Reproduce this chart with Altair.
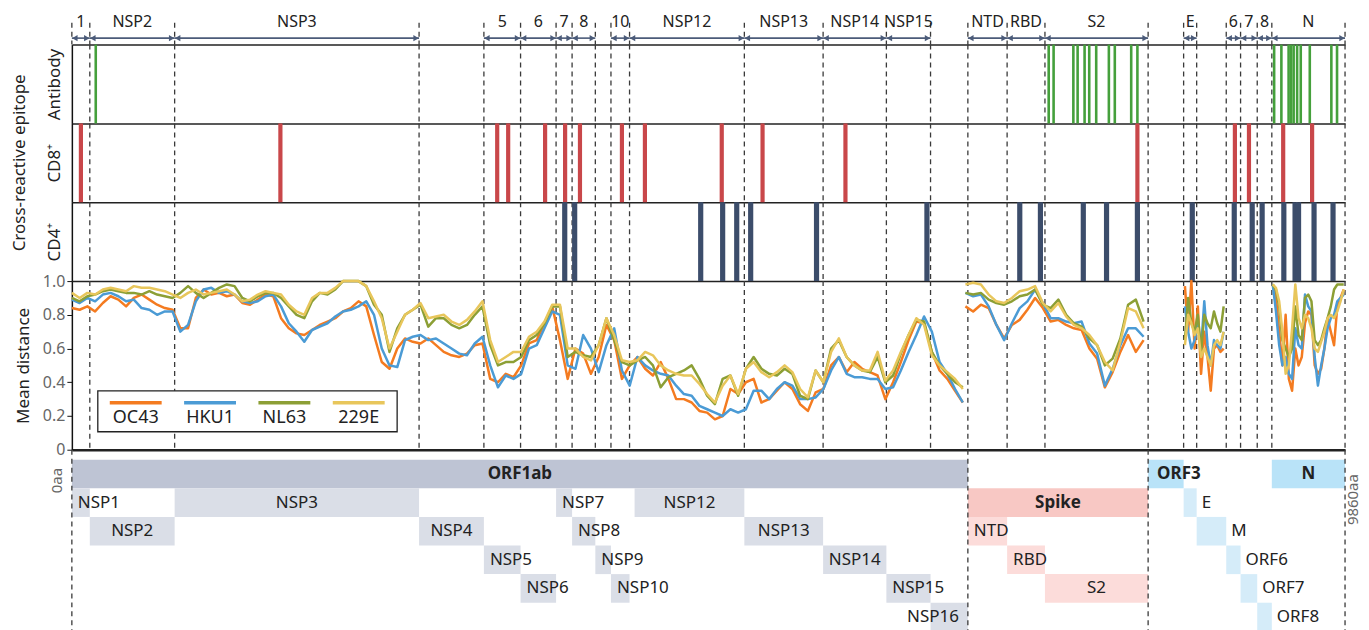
import altair as alt
import pandas as pd

# ---------------- series ----------------
SERIES = ["OC43", "HKU1", "NL63", "229E"]
SERIES_COLORS = ["#f47b20", "#4b9bd5", "#8c9f35", "#e8c65b"]

# sliding-window positions (aa): segment start and window step
ORF1AB_START, ORF1AB_STEP = 0, 60
SPIKE_START, SPIKE_STEP = 6920, 60
EM_START, EM_STEP = 8620, 25
N_START, N_STEP = 9300, 25

oc43_orf1ab = [0.84, 0.83, 0.85, 0.82, 0.87, 0.91, 0.89, 0.85, 0.90, 0.92,
               0.89, 0.86, 0.84, 0.83, 0.72, 0.72, 0.90, 0.95, 0.92, 0.93,
               0.91, 0.92, 0.87, 0.86, 0.89, 0.92, 0.91, 0.78, 0.72, 0.69,
               0.68, 0.71, 0.74, 0.76, 0.78, 0.82, 0.84, 0.88, 0.85, 0.68,
               0.52, 0.48, 0.60, 0.66, 0.64, 0.63, 0.66, 0.62, 0.58, 0.56,
               0.55, 0.57, 0.62, 0.63, 0.42, 0.40, 0.45, 0.43, 0.50, 0.63,
               0.65, 0.75, 0.85, 0.65, 0.42, 0.60, 0.57, 0.45, 0.55, 0.74,
               0.65, 0.42, 0.50, 0.55, 0.48, 0.44, 0.52, 0.42, 0.30, 0.30,
               0.28, 0.23, 0.22, 0.18, 0.20, 0.36, 0.33, 0.40, 0.42, 0.28,
               0.30, 0.35, 0.40, 0.36, 0.27, 0.23, 0.34, 0.36, 0.50, 0.55,
               0.46, 0.52, 0.48, 0.46, 0.44, 0.30, 0.40, 0.52, 0.65, 0.76,
               0.75, 0.58, 0.47, 0.42, 0.35, 0.28]
hku1_orf1ab = [0.89, 0.87, 0.90, 0.88, 0.92, 0.93, 0.91, 0.88, 0.89, 0.84,
               0.83, 0.80, 0.82, 0.82, 0.70, 0.74, 0.88, 0.95, 0.96, 0.93,
               0.94, 0.92, 0.88, 0.87, 0.88, 0.91, 0.92, 0.85, 0.75, 0.70,
               0.64, 0.71, 0.73, 0.75, 0.79, 0.82, 0.83, 0.85, 0.88, 0.80,
               0.60, 0.50, 0.49, 0.65, 0.67, 0.68, 0.65, 0.66, 0.63, 0.60,
               0.57, 0.56, 0.63, 0.67, 0.50, 0.37, 0.44, 0.42, 0.45, 0.60,
               0.62, 0.72, 0.82, 0.80, 0.50, 0.48, 0.68, 0.60, 0.46, 0.62,
               0.72, 0.47, 0.38, 0.55, 0.50, 0.47, 0.45, 0.44, 0.38, 0.33,
               0.32, 0.26, 0.24, 0.22, 0.20, 0.24, 0.22, 0.24, 0.35, 0.35,
               0.30, 0.36, 0.40, 0.38, 0.30, 0.30, 0.31, 0.36, 0.47, 0.55,
               0.45, 0.43, 0.43, 0.42, 0.42, 0.36, 0.37, 0.47, 0.58, 0.68,
               0.79, 0.70, 0.52, 0.45, 0.36, 0.28]
nl63_orf1ab = [0.90, 0.88, 0.91, 0.92, 0.94, 0.95, 0.94, 0.93, 0.93, 0.92,
               0.94, 0.92, 0.91, 0.90, 0.93, 0.97, 0.93, 0.90, 0.93, 0.96,
               0.98, 0.97, 0.90, 0.88, 0.91, 0.93, 0.93, 0.90, 0.85, 0.80,
               0.78, 0.88, 0.93, 0.92, 0.95, 1.00, 1.00, 1.00, 0.97, 0.86,
               0.80, 0.58, 0.72, 0.80, 0.83, 0.86, 0.73, 0.78, 0.78, 0.74,
               0.72, 0.74, 0.80, 0.85, 0.62, 0.50, 0.52, 0.52, 0.55, 0.65,
               0.68, 0.75, 0.85, 0.85, 0.55, 0.58, 0.56, 0.55, 0.62, 0.78,
               0.65, 0.52, 0.50, 0.53, 0.55, 0.50, 0.37, 0.43, 0.45, 0.47,
               0.50, 0.42, 0.32, 0.27, 0.42, 0.44, 0.32, 0.48, 0.55, 0.48,
               0.45, 0.44, 0.48, 0.45, 0.32, 0.30, 0.47, 0.40, 0.60, 0.65,
               0.55, 0.50, 0.47, 0.46, 0.55, 0.40, 0.44, 0.57, 0.68, 0.77,
               0.76, 0.58, 0.50, 0.45, 0.40, 0.37]
e229_orf1ab = [0.93, 0.90, 0.93, 0.92, 0.95, 0.96, 0.95, 0.94, 0.97, 0.96,
               0.96, 0.95, 0.94, 0.92, 0.90, 0.93, 0.95, 0.92, 0.93, 0.94,
               0.95, 0.92, 0.88, 0.89, 0.92, 0.94, 0.93, 0.92, 0.86, 0.82,
               0.80, 0.90, 0.93, 0.93, 0.96, 1.00, 1.00, 1.00, 0.97, 0.88,
               0.78, 0.60, 0.70, 0.80, 0.83, 0.87, 0.78, 0.79, 0.80, 0.76,
               0.74, 0.77, 0.82, 0.88, 0.65, 0.52, 0.55, 0.58, 0.58, 0.67,
               0.70, 0.76, 0.86, 0.86, 0.60, 0.60, 0.55, 0.53, 0.62, 0.78,
               0.68, 0.53, 0.52, 0.53, 0.58, 0.56, 0.50, 0.47, 0.45, 0.44,
               0.44, 0.39, 0.33, 0.28, 0.38, 0.44, 0.33, 0.48, 0.52, 0.46,
               0.43, 0.46, 0.50, 0.46, 0.36, 0.31, 0.47, 0.40, 0.58, 0.66,
               0.55, 0.50, 0.47, 0.47, 0.58, 0.41, 0.47, 0.58, 0.68, 0.78,
               0.74, 0.56, 0.50, 0.46, 0.42, 0.36]

oc43_spike = [0.85, 0.82, 0.86, 0.84, 0.74, 0.66, 0.74, 0.77, 0.83, 0.90, 0.84, 0.76,
              0.77, 0.74, 0.72, 0.71, 0.60, 0.54, 0.37, 0.46, 0.58, 0.68, 0.58, 0.65]
hku1_spike = [0.93, 0.91, 0.92, 0.85, 0.74, 0.65, 0.75, 0.84, 0.88, 0.95, 0.87, 0.78,
              0.78, 0.76, 0.75, 0.76, 0.63, 0.57, 0.38, 0.48, 0.62, 0.72, 0.72, 0.67]
nl63_spike = [0.93, 0.92, 0.93, 0.89, 0.87, 0.86, 0.88, 0.91, 0.92, 0.95, 0.86, 0.84,
              0.89, 0.80, 0.75, 0.73, 0.66, 0.62, 0.50, 0.54, 0.66, 0.86, 0.89, 0.76]
e229_spike = [0.98, 0.99, 0.98, 0.92, 0.88, 0.87, 0.90, 0.94, 0.95, 0.97, 0.87, 0.82,
              0.87, 0.79, 0.74, 0.72, 0.68, 0.62, 0.52, 0.47, 0.64, 0.84, 0.82, 0.72]

oc43_em = [0.97, 0.70, 1.00, 0.60, 0.85, 0.45, 0.70, 0.55, 0.35, 0.60, 0.62, 0.58, 0.60]
hku1_em = [0.85, 0.70, 0.60, 0.65, 0.75, 0.60, 0.88, 0.62, 0.50, 0.65, 0.62, 0.60, 0.70]
nl63_em = [0.65, 0.90, 0.75, 0.70, 0.80, 0.58, 0.80, 0.75, 0.72, 0.82, 0.75, 0.70, 0.85]
e229_em = [0.62, 0.80, 0.75, 0.68, 0.72, 0.55, 0.60, 0.55, 0.50, 0.62, 0.65, 0.62, 0.70]

oc43_n = [0.98, 0.90, 0.70, 0.50, 0.80, 0.42, 0.35, 0.60, 0.50, 0.55, 0.75, 0.82,
          0.80, 0.50, 0.45, 0.48, 0.60, 0.78, 0.70, 0.62, 0.85, 0.90, 0.95]
hku1_n = [0.98, 0.82, 0.62, 0.50, 0.55, 0.45, 0.42, 0.72, 0.62, 0.60, 0.92, 0.85,
          0.82, 0.55, 0.38, 0.50, 0.60, 0.72, 0.78, 0.80, 0.88, 0.90, 0.92]
nl63_n = [0.98, 0.95, 0.85, 0.65, 0.60, 0.55, 0.60, 0.85, 0.68, 0.65, 0.90, 0.92,
          0.88, 0.65, 0.62, 0.65, 0.72, 0.78, 0.85, 0.95, 0.98, 0.98, 0.98]
e229_n = [0.98, 0.96, 0.88, 0.70, 0.45, 0.50, 0.72, 0.98, 0.78, 0.72, 0.80, 0.78,
          0.72, 0.60, 0.58, 0.64, 0.70, 0.78, 0.80, 0.78, 0.82, 0.88, 0.95]

# ---------------- epitope positions (aa) ----------------
antibody_pos = [185, 7565, 7603, 7756, 7789, 7843, 7879, 7933, 8031, 8077, 8204, 8252,
                9311, 9367, 9423, 9442, 9462, 9489, 9517, 9587, 9754, 9798]
cd8_pos = [70, 1615, 3294, 3379, 3665, 3820, 3935, 4260, 4438, 5033, 5349, 5991,
           8252, 9007, 9116, 9381, 9605]
cd4_pos = [3817, 3894, 4870, 5040, 5149, 5257, 5767, 6622, 7341, 7501, 7833, 8013,
           8252, 8677, 9002, 9141, 9218, 9386, 9473, 9500, 9620, 9767]

# ---------------- protein boundaries (aa) ----------------
boundaries = [0, 139, 796, 2689, 3191, 3475, 3750, 3874, 4054, 4175, 4319, 5208, 5818,
              6308, 6650, 6939, 7243, 7536, 8335, 8610, 8711, 8940, 9051, 9180, 9293, 9860]

span_labels = ["1", "NSP2", "NSP3", "5", "6", "7", "8", "10", "NSP12", "NSP13", "NSP14",
               "NSP15", "NTD", "RBD", "S2", "E", "6", "7", "8", "N"]
span_start = [0, 139, 796, 3191, 3475, 3750, 3874, 4175, 4319, 5208, 5818, 6308,
              6939, 7243, 7536, 8610, 8940, 9051, 9180, 9293]
span_end = [139, 796, 2689, 3475, 3750, 3874, 4054, 4319, 5208, 5818, 6308, 6650,
            7243, 7536, 8335, 8711, 9051, 9180, 9293, 9860]

gene_names = ["ORF1ab", "NSP1", "NSP2", "NSP3", "NSP4", "NSP5", "NSP6", "NSP7", "NSP8",
              "NSP9", "NSP10", "NSP12", "NSP13", "NSP14", "NSP15", "NSP16", "Spike",
              "NTD", "RBD", "S2", "ORF3", "E", "M", "ORF6", "ORF7", "ORF8", "N"]
gene_start = [0, 0, 139, 796, 2689, 3191, 3475, 3750, 3874, 4054, 4175, 4358, 5208,
              5818, 6308, 6650, 6939, 6939, 7243, 7536, 8335, 8610, 8711, 8940, 9051,
              9180, 9293]
gene_end = [6939, 139, 796, 2689, 3191, 3475, 3750, 3874, 4054, 4175, 4319, 5208, 5818,
            6308, 6650, 6939, 8335, 7243, 7536, 8335, 8610, 8711, 8940, 9051, 9180,
            9293, 9860]
gene_row = [1, 2, 3, 2, 3, 4, 5, 2, 3, 4, 5, 2, 3, 4, 5, 6, 2, 3, 4, 5, 1, 2, 3, 4, 5, 6, 1]
gene_group = ["orf1ab"] + ["nsp"] * 15 + ["spike"] + ["spike_sub"] * 3 + ["acc"] + \
             ["acc_sub"] * 5 + ["acc"]
gene_label_mode = ["center", "start", "center", "center", "center", "start", "start",
                   "start", "start", "start", "start", "center", "center", "center",
                   "start", "end", "center", "start", "start", "center", "start",
                   "after", "after", "after", "after", "after", "center"]
gene_bold = [1, 0, 0, 0, 0, 0, 0, 0, 0, 0, 0, 0, 0, 0, 0, 0, 1, 0, 0, 0, 1, 0, 0, 0, 0, 0, 1]
GROUPS = ["orf1ab", "nsp", "spike", "spike_sub", "acc", "acc_sub"]
GROUP_COLORS = ["#bec4d4", "#dadee7", "#f8c8c4", "#fcdcda", "#b9e3f8", "#d5ecf9"]

# ---------------- build tables ----------------
segments = [
    ("ORF1ab", ORF1AB_START, ORF1AB_STEP, [oc43_orf1ab, hku1_orf1ab, nl63_orf1ab, e229_orf1ab]),
    ("Spike", SPIKE_START, SPIKE_STEP, [oc43_spike, hku1_spike, nl63_spike, e229_spike]),
    ("EM", EM_START, EM_STEP, [oc43_em, hku1_em, nl63_em, e229_em]),
    ("N", N_START, N_STEP, [oc43_n, hku1_n, nl63_n, e229_n]),
]
rows = []
for seg, start, step, lists in segments:
    for s, vals in zip(SERIES, lists):
        for i, v in enumerate(vals):
            rows.append({"pos": start + i * step, "dist": v, "series": s, "seg": seg})
line_df = pd.DataFrame(rows)

bnd_all = pd.DataFrame({"b": boundaries})
bnd_inner = pd.DataFrame({"b": boundaries[1:]})
span_df = pd.DataFrame({"label": span_labels, "start": span_start, "end": span_end})
span_df["mid"] = (span_df["start"] + span_df["end"]) / 2

gene_df = pd.DataFrame({"name": gene_names, "start": gene_start, "end": gene_end,
                        "row": gene_row, "grp": gene_group, "mode": gene_label_mode,
                        "bold": gene_bold})
gene_df["top"] = gene_df["row"] - 1
gene_df["bottom"] = gene_df["row"]
gene_df["ymid"] = gene_df["row"] - 0.5
gene_df["mid"] = (gene_df["start"] + gene_df["end"]) / 2

# ---------------- styling ----------------
W = 1276
XSCALE = alt.Scale(domain=[0, 9860], nice=False, zero=False)
DASH = "#3a3a3a"
ARROW = "#4b5b79"
TXT = "#222222"
FS = 17


def bottom_axis(width=1.5):
    return alt.Axis(orient="bottom", domain=True, domainColor="#222", domainWidth=width,
                    labels=False, ticks=False, grid=False, title=None)


def dashes(df, axis, **enc):
    return alt.Chart(df).mark_rule(color=DASH, strokeDash=[5, 4], strokeWidth=1.3).encode(
        x=alt.X("b:Q", scale=XSCALE, axis=axis), **enc)


# ---- top annotation strip ----
ax_top = bottom_axis()
# invisible anchor fixing the left margin of the whole figure
anchor = alt.Chart(pd.DataFrame({"k": [0]})).mark_rule(opacity=0).encode(
    x=alt.value(-64), y=alt.value(0), y2=alt.value(2))
top = alt.layer(
    anchor,
    dashes(bnd_all, ax_top, y=alt.value(14), y2=alt.value(36)),
    alt.Chart(span_df).mark_rule(color=ARROW, strokeWidth=1.6).encode(
        x=alt.X("start:Q", scale=XSCALE, axis=ax_top), x2="end:Q", y=alt.value(29.5)),
    alt.Chart(span_df).mark_point(shape="triangle-left", filled=True, size=40, color=ARROW,
                                  opacity=1, xOffset=3).encode(
        x=alt.X("start:Q", scale=XSCALE, axis=ax_top), y=alt.value(29.5)),
    alt.Chart(span_df).mark_point(shape="triangle-right", filled=True, size=40, color=ARROW,
                                  opacity=1, xOffset=-3).encode(
        x=alt.X("end:Q", scale=XSCALE, axis=ax_top), y=alt.value(29.5)),
    alt.Chart(span_df).mark_text(fontSize=16, color=TXT, baseline="middle").encode(
        x=alt.X("mid:Q", scale=XSCALE, axis=ax_top), y=alt.value(13), text="label:N"),
).properties(width=W, height=36)


# ---- epitope panels ----
def epitope_panel(positions, color, width, title, extra=None):
    ax = bottom_axis()
    edf = pd.DataFrame({"pos": positions, "lo": 0.0, "hi": 1.0})
    bars = alt.Chart(edf).mark_rule(color=color, strokeWidth=width).encode(
        x=alt.X("pos:Q", scale=XSCALE, axis=ax),
        y=alt.Y("lo:Q", scale=alt.Scale(domain=[0, 1], nice=False),
                axis=alt.Axis(title=title, labels=False, ticks=False, grid=False,
                              domainColor="#111", domainWidth=1.5, titlePadding=8,
                              titleFontSize=FS, titleFontWeight="normal", titleColor=TXT)),
        y2="hi:Q")
    layers = [dashes(bnd_inner, ax), bars]
    if extra is not None:
        layers.append(extra)
    return alt.layer(*layers).properties(width=W, height=79)


side_title = alt.Chart(pd.DataFrame({"t": ["Cross-reactive epitope"]})).mark_text(
    angle=270, fontSize=FS, color=TXT, align="center", baseline="middle").encode(
    text="t:N", x=alt.value(-52), y=alt.value(39.5))

ab = epitope_panel(antibody_pos, "#45a03c", 2.6, "Antibody")
cd8 = epitope_panel(cd8_pos, "#c9474a", 4.2, "CD8⁺", extra=side_title)
cd4 = epitope_panel(cd4_pos, "#3c4d6b", 5.2, "CD4⁺")

# ---- mean distance panel ----
ax_line = bottom_axis(2.6)
lines = alt.Chart(line_df).mark_line(strokeWidth=2.5, strokeJoin="round").encode(
    x=alt.X("pos:Q", scale=XSCALE, axis=ax_line),
    y=alt.Y("dist:Q", scale=alt.Scale(domain=[0, 1], nice=False),
            axis=alt.Axis(values=[0, 0.2, 0.4, 0.6, 0.8, 1.0],
                          labelExpr="datum.value == 0 ? '0' : format(datum.value, '.1f')",
                          tickSize=5, tickColor="#111", domainColor="#111", domainWidth=1.5,
                          labelFontSize=16, labelColor="#666", labelPadding=2, grid=False,
                          title="Mean distance", titleFontSize=FS, titleFontWeight="normal",
                          titleColor=TXT, titlePadding=10)),
    color=alt.Color("series:N", scale=alt.Scale(domain=SERIES, range=SERIES_COLORS),
                    legend=None),
    detail="seg:N",
    order=alt.Order("pos:Q"),
)

# legend drawn as a framed box: swatch line above each series name
LEG_X0, LEG_STEP = 38, 74.5
legend_layers = [
    alt.Chart(pd.DataFrame({"k": [1]})).mark_rect(fill="white", stroke="#222",
                                                 strokeWidth=1.3).encode(
        x=alt.value(26), x2=alt.value(326), y=alt.value(110), y2=alt.value(151))
]
for i, (s, c) in enumerate(zip(SERIES, SERIES_COLORS)):
    d = pd.DataFrame({"series": [s]})
    x0 = LEG_X0 + LEG_STEP * i
    legend_layers.append(alt.Chart(d).mark_rule(color=c, strokeWidth=3.5).encode(
        x=alt.value(x0), x2=alt.value(x0 + 52), y=alt.value(122)))
    legend_layers.append(alt.Chart(d).mark_text(fontSize=18, color=TXT, baseline="middle",
                                                align="center").encode(
        x=alt.value(x0 + 26), y=alt.value(137), text="series:N"))

line_panel = alt.layer(dashes(bnd_inner, ax_line), lines, *legend_layers).properties(
    width=W, height=169)

# ---- genome map ----
YG = alt.Scale(domain=[-0.35, 6], reverse=True, nice=False, zero=False)


def gx(f):
    return alt.X(f"{f}:Q", scale=XSCALE, axis=None)


rects = alt.Chart(gene_df).mark_rect().encode(
    x=gx("start"), x2="end",
    y=alt.Y("top:Q", scale=YG, axis=None), y2="bottom:Q",
    fill=alt.Fill("grp:N", scale=alt.Scale(domain=GROUPS, range=GROUP_COLORS), legend=None))


def gene_text(mode, bold, field, align, dx):
    return alt.Chart(gene_df).transform_filter(
        f"datum.mode == '{mode}' && datum.bold == {bold}").mark_text(
        fontSize=FS, color=TXT, baseline="middle", align=align, dx=dx,
        fontWeight="bold" if bold else "normal").encode(
        x=gx(field), y=alt.Y("ymid:Q", scale=YG, axis=None), text="name:N")


def aa_lbl(t, xv, yv):
    return alt.Chart(pd.DataFrame({"t": [t]})).mark_text(
        angle=270, fontSize=15, color="#666", align="center", baseline="middle").encode(
        text="t:N", x=alt.value(xv), y=alt.value(yv))


gene_panel = alt.layer(
    rects,
    gene_text("center", 1, "mid", "center", 0),
    gene_text("start", 1, "start", "left", 9),
    gene_text("center", 0, "mid", "center", 0),
    gene_text("start", 0, "start", "left", 6),
    gene_text("after", 0, "end", "left", 5),
    gene_text("end", 0, "end", "right", -9),
    dashes(pd.DataFrame({"b": [0, 6939, 8335, 9860]}), None),
    aa_lbl("0aa", -15, 31),
    aa_lbl("9860aa", 1284, 50),
).properties(width=W, height=182)

chart = alt.vconcat(top, ab, cd8, cd4, line_panel, gene_panel, spacing=0, bounds="flush").resolve_scale(
    color="independent", fill="independent"
).properties(
    padding={"left": 0, "top": 0, "right": 0, "bottom": 0},
).configure(font="Noto Sans").configure_view(stroke=None)

chart.save("out.html", embed_options={"renderer": "svg", "actions": False})
